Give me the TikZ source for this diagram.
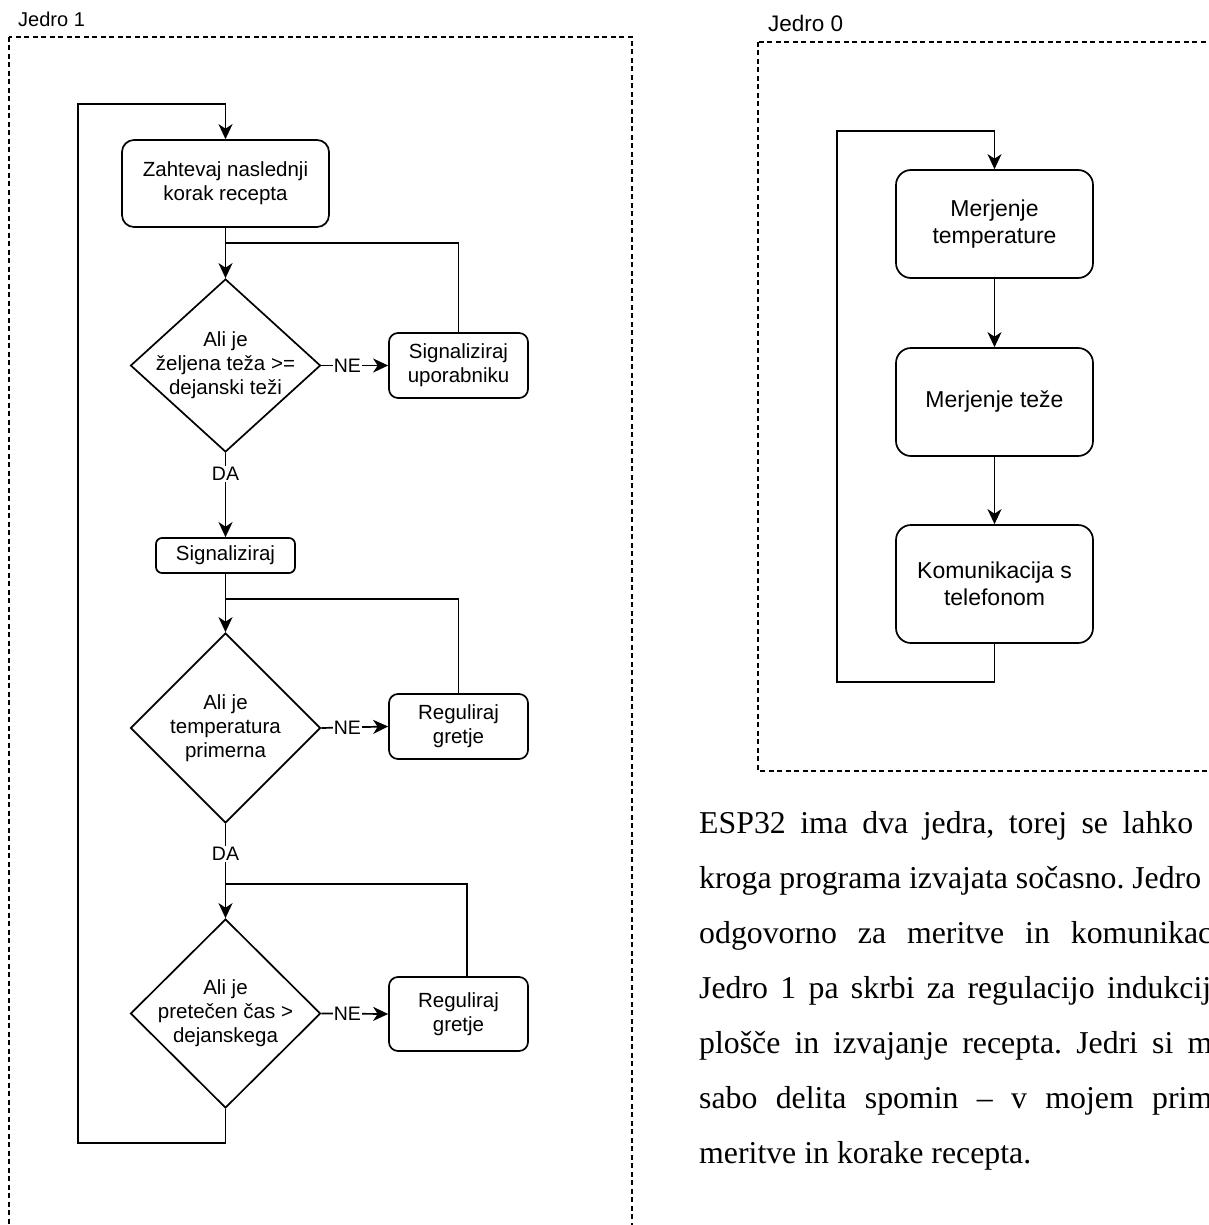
\documentclass[tikz,border=0pt]{standalone}
\usepackage{fontspec}
\setmainfont{Liberation Sans}
\newfontfamily\parfont{Liberation Serif}
\usetikzlibrary{shapes.geometric,arrows.meta,calc}
\tikzset{
  nodefont/.style={font=\fontsize{20.5}{24}\selectfont},
  bigfont/.style={font=\fontsize{23}{27}\selectfont},
  proc/.style={draw, line width=1.7pt, rounded corners=11pt, align=center, inner sep=0pt, nodefont},
  dec/.style={draw, diamond, line width=1.7pt, align=center, inner sep=-30pt, minimum width=190pt, nodefont},
  conn/.style={line width=1.7pt},
  arr/.style={conn, -{Stealth[length=15pt,width=14pt,inset=4.5pt]}},
  edgelbl/.style={fill=white, inner sep=1pt, font=\fontsize{19.5}{22}\selectfont},
  frame/.style={draw, line width=1.5pt, dash pattern=on 5pt off 3.5pt},
  title/.style={anchor=west, inner sep=0pt, font=\fontsize{20}{24}\selectfont},
  parline/.style={anchor=base west, inner sep=0pt, font=\parfont\fontsize{31.8}{55}\selectfont},
}
\begin{document}
\begin{tikzpicture}[x=1pt,y=-1pt]
\path[use as bounding box] (0,0) rectangle (1208,1225);
\clip (0,0) rectangle (1208,1225);

% frames
\node[title] (t1) at (18,19) {Jedro 1};
\node[title, font=\fontsize{22.5}{26}\selectfont] (t0) at (768,23) {Jedro 0};
\path[frame] (9,37) rectangle (632,1260);
\path[frame] (758,42) rectangle (1260,771);

% left flowchart
\node[proc, minimum width=207pt, minimum height=87pt, rounded corners=12pt] (b1) at (225.5,183.5) {Zahtevaj naslednji\\korak recepta};
\node[dec, minimum height=173pt] (d1) at (225.5,365.5) {Ali je\\željena teža >=\\dejanski teži};
\node[proc, minimum width=139pt, minimum height=65pt, rounded corners=9pt] (s1) at (458.5,365.5) {Signaliziraj\\uporabniku};
\node[proc, minimum width=139pt, minimum height=35pt, rounded corners=6pt] (sig) at (225.5,555.5) {Signaliziraj};
\node[dec, minimum height=190pt] (d2) at (225.5,728) {Ali je\\temperatura\\primerna};
\node[proc, minimum width=139pt, minimum height=65pt, rounded corners=9pt] (r1) at (458.5,726.5) {Reguliraj\\gretje};
\node[dec, minimum height=189pt] (d3) at (225.5,1013.5) {Ali je\\pretečen čas >\\dejanskega};
\node[proc, minimum width=139pt, minimum height=74pt, rounded corners=9pt] (r2) at (458.5,1014) {Reguliraj\\gretje};

\coordinate (j1) at (225.5,243);
\coordinate (j2) at (225.5,599);
\coordinate (j3) at (225.5,884);
\coordinate (loopL) at (78,104);

\draw[arr] (b1.south) -- (d1.north);
\draw[conn] (s1.north) |- (j1);
\draw[arr] (d1.east) -- node[edgelbl, pos=0.39] {NE} (s1.west);
\draw[arr] (d1.south) -- node[edgelbl, pos=0.25] {DA} (sig.north);
\draw[arr] (sig.south) -- (d2.north);
\draw[conn] (r1.north) |- (j2);
\draw[arr] (d2.east) -- node[edgelbl, pos=0.39] {NE} (r1.west);
\draw[arr] (d2.south) -- node[edgelbl, pos=0.32] {DA} (d3.north);
\draw[conn] ([xshift=8.5pt]r2.north) |- (j3);
\draw[arr] (d3.east) -- node[edgelbl, pos=0.39] {NE} (r2.west);
\draw[arr] (d3.south) -- ++(0,34) -| (loopL) -| (b1.north);

% right flowchart
\node[proc, bigfont, minimum width=197pt, minimum height=108pt, rounded corners=15pt] (m1) at (994.5,224) {Merjenje\\temperature};
\node[proc, bigfont, minimum width=197pt, minimum height=108pt, rounded corners=15pt] (m2) at (994.5,402) {Merjenje teže};
\node[proc, bigfont, minimum width=197pt, minimum height=118pt, rounded corners=15pt] (m3) at (994.5,584) {Komunikacija s\\telefonom};
\coordinate (loopR) at (837,131);
\draw[arr] (m1.south) -- (m2.north);
\draw[arr] (m2.south) -- (m3.north);
\draw[arr] (m3.south) -- ++(0,38) -| (loopR) -| (m1.north);

% paragraph
\node[parline] (p1) at (699,833) {\hbox to 494pt{ESP32\hfill ima\hfill dva\hfill jedra,\hfill torej\hfill se\hfill lahko}};
\node[parline] (p2) at (699,888) {\hbox to 502pt{kroga\hfill programa\hfill izvajata\hfill sočasno.\hfill Jedro}};
\node[parline] (p3) at (699,943) {\hbox to 513pt{odgovorno\hfill za\hfill meritve\hfill in\hfill komunikac}};
\node[parline] (p4) at (699,998) {\hbox to 512pt{Jedro\hfill 1\hfill pa\hfill skrbi\hfill za\hfill regulacijo\hfill indukcij}};
\node[parline] (p5) at (699,1053) {\hbox to 513pt{plošče\hfill in\hfill izvajanje\hfill recepta.\hfill Jedri\hfill si\hfill m}};
\node[parline] (p6) at (699,1108) {\hbox to 513pt{sabo\hfill delita\hfill spomin\hfill –\hfill v\hfill mojem\hfill prim}};
\node[parline] (p7) at (699,1163) {meritve in korake recepta.};
\end{tikzpicture}
\end{document}
